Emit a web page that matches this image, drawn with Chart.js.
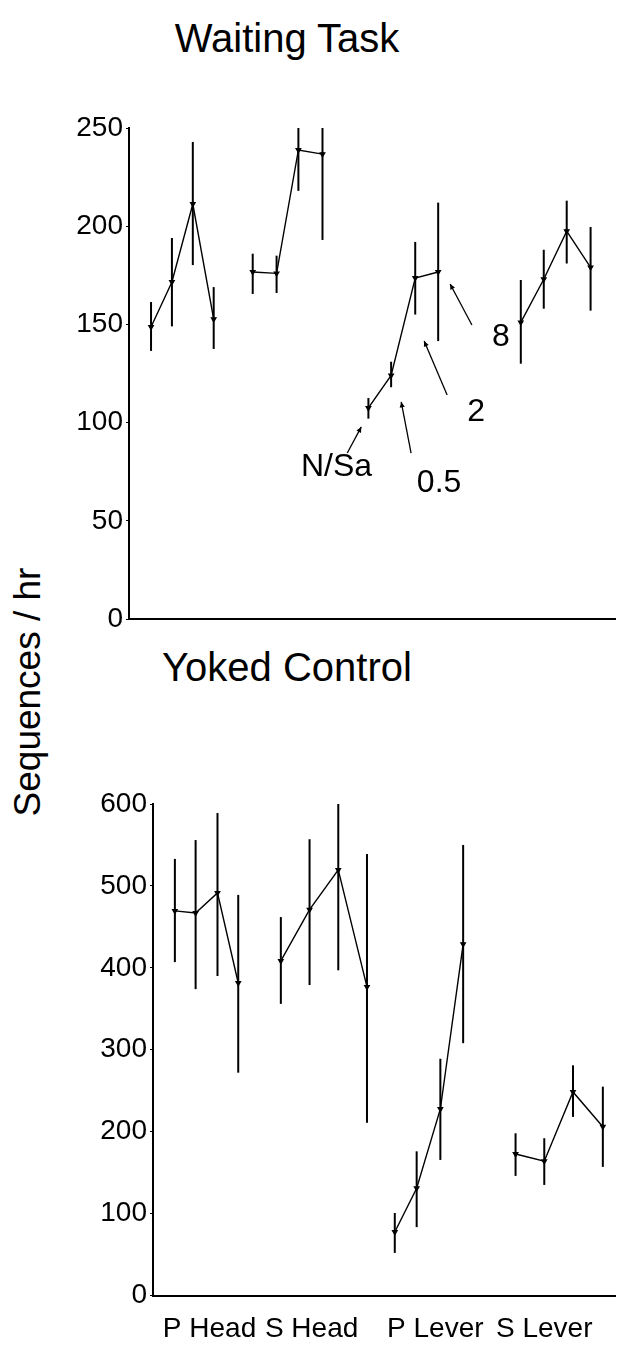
<!DOCTYPE html>
<html>
<head>
<meta charset="utf-8">
<script src="https://cdn.jsdelivr.net/npm/chart.js@4.4.0/dist/chart.umd.min.js"></script>
<style>
  body { margin: 0; background: #fff; }
  #wrap { position: relative; width: 621px; height: 1353px; overflow: hidden; font-family: "Liberation Sans", Arial, sans-serif; color: #000; }
  canvas { position: absolute; left: 0; }
  .title { position: absolute; left: 87px; width: 400px; text-align: center; font-size: 40px; line-height: 44px; }
  #ytitle { position: absolute; left: -122px; top: 672px; width: 300px; height: 40px; line-height: 40px; text-align: center; font-size: 37px; transform: rotate(-90deg); }
</style>
</head>
<body>
<div id="wrap">
  <div class="title" style="top:16px">Waiting Task</div>
  <div class="title" style="top:645px">Yoked Control</div>
  <div id="ytitle">Sequences / hr</div>
  <canvas id="waitChart" width="621" height="645" style="top:0"></canvas>
  <canvas id="yokedChart" width="621" height="723" style="top:630px"></canvas>
</div>
<script>
// groups along the x axis (4 doses each)
const groups = ['P Head', 'S Head', 'P Lever', 'S Lever'];

// Waiting Task panel
const waitX    = [[0.96, 1.87, 2.78, 3.69], [5.39, 6.43, 7.38, 8.43], [10.43, 11.42, 12.47, 13.47], [17.07, 18.07, 19.07, 20.11]];
const waitMean = [[148.7, 171.6, 211.3, 152.7], [176.7, 176.0, 238.8, 236.7], [107.5, 124.0, 173.6, 176.7], [151.0, 173.0, 197.5, 179.0]];
const waitLo   = [[136.5, 149.0, 180.2, 137.5], [165.5, 166.0, 218.0, 193.0], [102.0, 118.0, 155.0, 141.5], [130.0, 158.0, 181.0, 157.0]];
const waitHi   = [[161.4, 194.0, 242.9, 169.0], [186.0, 185.0, 250.0, 250.0], [112.5, 131.0, 192.0, 212.0], [172.6, 188.0, 213.0, 199.6]];

// Yoked Control panel
const yokedX    = [[0.96, 1.87, 2.83, 3.74], [5.61, 6.87, 8.13, 9.39], [10.61, 11.57, 12.61, 13.61], [15.91, 17.17, 18.43, 19.74]];
const yokedMean = [[469.5, 467.0, 491.5, 381.5], [408.4, 471.0, 519.5, 376.7], [77.5, 131.0, 227.7, 429.0], [172.7, 164.0, 248.5, 206.0]];
const yokedLo   = [[407, 374, 390, 272], [356, 379, 397, 211], [52, 83.5, 165.5, 308], [146, 135, 218, 157]];
const yokedHi   = [[533, 556, 589, 489], [462, 557, 600, 539], [100.7, 176, 289, 550], [198, 192, 281, 255]];
const yokedLabelX = [2.48, 6.96, 12.39, 17.17];

// dose annotations in the Waiting Task panel
const notes = ['N/Sa', '0.5', '2', '8'];
const noteX = [9.04, 13.51, 15.12, 16.2];
const noteY = [77.4, 69.2, 105.4, 143.6];
const arrowFrom = [[9.51, 84.5], [12.29, 84.5], [13.86, 114], [14.94, 149.7]];
const arrowTo   = [[10.12, 97.8], [11.86, 110.5], [12.86, 141.5], [13.99, 170.6]];

const FONT = '"Liberation Sans", Arial, sans-serif';

function errorBarPlugin(xs, lo, hi) {
  return {
    id: 'errorBars',
    afterDatasetsDraw(chart) {
      const {ctx, scales: {x, y}} = chart;
      ctx.save();
      ctx.strokeStyle = '#000';
      ctx.lineWidth = 2;
      xs.forEach((grp, g) => grp.forEach((v, i) => {
        const px = x.getPixelForValue(v);
        ctx.beginPath();
        ctx.moveTo(px, y.getPixelForValue(lo[g][i]));
        ctx.lineTo(px, y.getPixelForValue(hi[g][i]));
        ctx.stroke();
      }));
      ctx.restore();
    }
  };
}

const notesPlugin = {
  id: 'doseNotes',
  afterDraw(chart) {
    const {ctx, scales: {x, y}} = chart;
    ctx.save();
    ctx.fillStyle = '#000';
    ctx.strokeStyle = '#000';
    ctx.lineWidth = 1.3;
    ctx.font = '32px ' + FONT;
    ctx.textAlign = 'center';
    ctx.textBaseline = 'middle';
    notes.forEach((t, i) => {
      ctx.fillText(t, x.getPixelForValue(noteX[i]), y.getPixelForValue(noteY[i]));
      const x0 = x.getPixelForValue(arrowFrom[i][0]), y0 = y.getPixelForValue(arrowFrom[i][1]);
      const x1 = x.getPixelForValue(arrowTo[i][0]), y1 = y.getPixelForValue(arrowTo[i][1]);
      const a = Math.atan2(y1 - y0, x1 - x0);
      ctx.beginPath();
      ctx.moveTo(x0, y0);
      ctx.lineTo(x1, y1);
      ctx.stroke();
      ctx.beginPath();
      ctx.moveTo(x1, y1);
      ctx.lineTo(x1 - 6 * Math.cos(a - 0.45), y1 - 6 * Math.sin(a - 0.45));
      ctx.lineTo(x1 - 6 * Math.cos(a + 0.45), y1 - 6 * Math.sin(a + 0.45));
      ctx.closePath();
      ctx.fill();
    });
    ctx.restore();
  }
};

function makeDatasets(xs, mean) {
  return xs.map((grp, g) => ({
    label: groups[g],
    data: grp.map((v, i) => ({x: v, y: mean[g][i]})),
    showLine: true,
    borderColor: '#000',
    borderWidth: 1.4,
    backgroundColor: '#000',
    pointStyle: 'triangle',
    rotation: 180,
    pointRadius: 2.5,
    tension: 0
  }));
}

function yScale(max, step, width) {
  return {
    min: 0, max: max,
    ticks: {stepSize: step, color: '#000', font: {family: FONT, size: 28}, padding: 3},
    grid: {drawOnChartArea: false, color: '#000', tickLength: 3, lineWidth: 1},
    border: {color: '#000', width: 2},
    afterFit: s => { s.width = width; }
  };
}

Chart.defaults.font.family = FONT;

new Chart(document.getElementById('waitChart'), {
  type: 'scatter',
  data: {datasets: makeDatasets(waitX, waitMean)},
  options: {
    responsive: false,
    animation: false,
    devicePixelRatio: 1,
    layout: {padding: {top: 128, right: 4, left: 0, bottom: 0}},
    plugins: {legend: {display: false}, tooltip: {enabled: false}},
    scales: {
      x: {
        type: 'linear', min: 0, max: 21.2,
        ticks: {display: false},
        grid: {display: false},
        border: {color: '#000', width: 2},
        afterFit: s => { s.height = 26; }
      },
      y: yScale(250, 50, 129)
    }
  },
  plugins: [errorBarPlugin(waitX, waitLo, waitHi), notesPlugin]
});

new Chart(document.getElementById('yokedChart'), {
  type: 'scatter',
  data: {datasets: makeDatasets(yokedX, yokedMean)},
  options: {
    responsive: false,
    animation: false,
    devicePixelRatio: 1,
    layout: {padding: {top: 174, right: 1, left: 0, bottom: 0}},
    plugins: {legend: {display: false}, tooltip: {enabled: false}},
    scales: {
      x: {
        type: 'linear', min: 0, max: 20.3,
        afterBuildTicks: s => { s.ticks = yokedLabelX.map(v => ({value: v})); },
        ticks: {
          color: '#000', font: {family: FONT, size: 28}, padding: 9,
          autoSkip: false, maxRotation: 0,
          callback: (v, i) => groups[i]
        },
        grid: {display: false},
        border: {color: '#000', width: 2},
        afterFit: s => { s.height = 57.5; }
      },
      y: yScale(600, 100, 153)
    }
  },
  plugins: [errorBarPlugin(yokedX, yokedLo, yokedHi)]
});
</script>
</body>
</html>
